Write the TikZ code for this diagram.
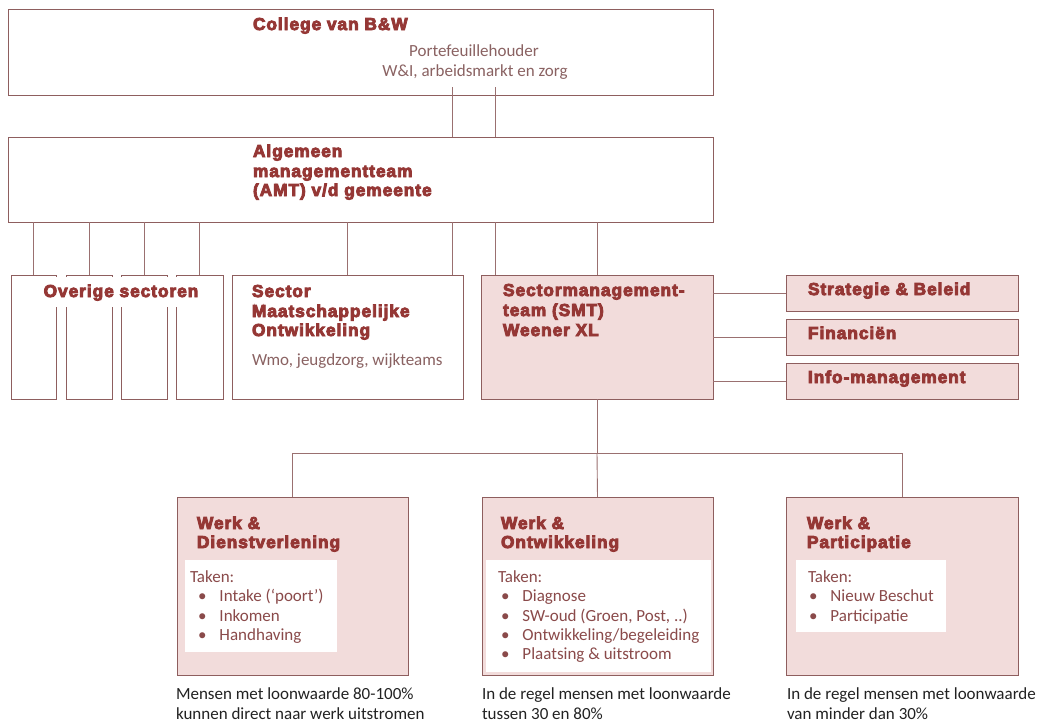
\documentclass[tikz,border=0pt]{standalone}
\usepackage{fontspec}
\setmainfont{Carlito}
\newfontfamily\tfont[BoldFeatures={FakeBold=5,LetterSpace=5.5}]{Liberation Sans}
\definecolor{boxc}{HTML}{8E5E5E}
\definecolor{linec}{HTML}{9A7070}
\definecolor{pinkc}{HTML}{F2DCDB}
\definecolor{titlec}{HTML}{953735}
\definecolor{bodyc}{HTML}{8A4A4A}
\definecolor{greyc}{HTML}{8A6262}
\definecolor{notec}{HTML}{222222}
\newcommand{\bulit}[1]{\makebox[21.5pt][l]{\textbullet}#1}
\begin{document}
\begin{tikzpicture}[x=1pt,y=-1pt,
  box/.style={draw=boxc, line width=1pt, inner sep=0pt, outer sep=0pt, anchor=north west},
  pinkbox/.style={box, fill=pinkc},
  whitebox/.style={fill=white, inner sep=0pt, outer sep=0pt, anchor=north west},
  ln/.style={draw=linec, line width=0.9pt},
  ttl/.style={inner sep=0pt, outer sep=0pt, anchor=base west, text=titlec, font=\tfont\bfseries\fontsize{17.3}{20}\selectfont},
  bodyt/.style={inner sep=0pt, outer sep=0pt, anchor=base west, text=bodyc, font=\fontsize{17}{20}\selectfont},
  greyt/.style={bodyt, text=greyc},
  notet/.style={bodyt, text=notec}]
\useasboundingbox (0,0) rectangle (1049,724);
\fill[white] (0,0) rectangle (1049,724);

% top boxes
\node[box, minimum width=705pt, minimum height=86pt] (college) at (8,9) {};
\node[box, minimum width=705pt, minimum height=85pt] (amt) at (8,137) {};

% sector boxes
\node[box, minimum width=45pt, minimum height=124pt] (ov1) at (11,275) {};
\node[box, minimum width=46pt, minimum height=124pt] (ov2) at (66,275) {};
\node[box, minimum width=46pt, minimum height=124pt] (ov3) at (121,275) {};
\node[box, minimum width=47pt, minimum height=124pt] (ov4) at (176,275) {};
\node[box, minimum width=231pt, minimum height=124pt] (smo) at (232,275) {};
\node[pinkbox, minimum width=232pt, minimum height=124pt] (smt) at (481,275) {};
\node[pinkbox, minimum width=232pt, minimum height=36pt] (strat) at (786,275) {};
\node[pinkbox, minimum width=232pt, minimum height=36pt] (fin) at (786,319) {};
\node[pinkbox, minimum width=232pt, minimum height=36pt] (info) at (786,363) {};

% bottom boxes
\node[pinkbox, minimum width=231pt, minimum height=178pt] (wd) at (177,497) {};
\node[pinkbox, minimum width=231pt, minimum height=178pt] (wo) at (482,497) {};
\node[pinkbox, minimum width=232pt, minimum height=178pt] (wp) at (786,497) {};
\node[whitebox, minimum width=152pt, minimum height=92pt] (wdi) at (185,560) {};
\node[whitebox, minimum width=225pt, minimum height=112pt] (woi) at (486,560) {};
\node[whitebox, minimum width=150pt, minimum height=72pt] (wpi) at (796,560) {};

% connectors
\coordinate (p1) at (452,87);
\coordinate (p2) at (495,87);
\draw[ln] (p1) -- (p1 |- amt.north);
\draw[ln] (p2) -- (p2 |- amt.north);
\draw[ln] (amt.south -| p1) -- (smo.north -| p1);
\draw[ln] (amt.south -| p2) -- (smt.north -| p2);
\foreach \b in {ov1,ov2,ov3,ov4,smo,smt}
  \draw[ln] (\b.north) -- (\b.north |- amt.south);
\draw[ln] (strat.west) -- (strat.west -| smt.east);
\draw[ln] (fin.west) -- (fin.west -| smt.east);
\draw[ln] (info.west) -- (info.west -| smt.east);
\coordinate (hub) at (597,453);
\draw[ln] (smt.south) -- (hub);
\draw[ln] (wd.north) -- (wd.north |- hub) -- (wp.north |- hub) -- (wp.north);
\draw[ln] (hub) -- (wo.north);

% texts: top
\node[ttl] (tcol) at (253,30) {College van B\&W};
\node[greyt, anchor=base] (tport) at (474,56) {Portefeuillehouder};
\node[greyt, anchor=base] (twi) at (475,76) {W\&I, arbeidsmarkt en zorg};
\node[ttl] (tamt1) at (253,157) {Algemeen};
\node[ttl] (tamt2) at (253,177) {managementteam};
\node[ttl] (tamt3) at (253,196) {(AMT) v/d gemeente};

% overige
\node[whitebox, minimum width=166pt, minimum height=30pt] (ovbg) at (38,277) {};
\node[ttl, anchor=base] (tov) at (121,297) {Overige sectoren};

% sector MO
\node[ttl] (tsmo1) at (252,297) {Sector};
\node[ttl] (tsmo2) at (252,317) {Maatschappelijke};
\node[ttl] (tsmo3) at (252,336) {Ontwikkeling};
\node[greyt] (tsmo4) at (252,365) {Wmo, jeugdzorg, wijkteams};

% SMT
\node[ttl] (tsmt1) at (503,296) {Sectormanagement-};
\node[ttl] (tsmt2) at (503,316) {team (SMT)};
\node[ttl] (tsmt3) at (503,336) {Weener XL};
\node[ttl] (tstrat) at (808,295) {Strategie \& Beleid};
\node[ttl] (tfin) at (808,339) {Financiën};
\node[ttl] (tinfo) at (808,383) {Info-management};

% W&D
\node[ttl] (twd1) at (197,529) {Werk \&};
\node[ttl] (twd2) at (197,548) {Dienstverlening};
\node[bodyt] (twd3) at (190,582) {Taken:};
\node[bodyt] (twd4) at (198,601) {\bulit{Intake (‘poort’)}};
\node[bodyt] (twd5) at (198,621) {\bulit{Inkomen}};
\node[bodyt] (twd6) at (198,640) {\bulit{Handhaving}};

% W&O
\node[ttl] (two1) at (501,529) {Werk \&};
\node[ttl] (two2) at (501,548) {Ontwikkeling};
\node[bodyt] (two3) at (498,582) {Taken:};
\node[bodyt] (two4) at (501,601) {\bulit{Diagnose}};
\node[bodyt] (two5) at (501,621) {\bulit{SW-oud (Groen, Post, ..)}};
\node[bodyt] (two6) at (501,640) {\bulit{Ontwikkeling/begeleiding}};
\node[bodyt] (two7) at (501,659) {\bulit{Plaatsing \& uitstroom}};

% W&P
\node[ttl] (twp1) at (807,529) {Werk \&};
\node[ttl] (twp2) at (807,548) {Participatie};
\node[bodyt] (twp3) at (808,582) {Taken:};
\node[bodyt] (twp4) at (809,601) {\bulit{Nieuw Beschut}};
\node[bodyt] (twp5) at (809,621) {\bulit{Participatie}};

% notes
\node[notet] (n1a) at (176,699) {Mensen met loonwaarde 80-100\%};
\node[notet] (n1b) at (176,719) {kunnen direct naar werk uitstromen};
\node[notet] (n2a) at (482,699) {In de regel mensen met loonwaarde};
\node[notet] (n2b) at (482,719) {tussen 30 en 80\%};
\node[notet] (n3a) at (787,699) {In de regel mensen met loonwaarde};
\node[notet] (n3b) at (787,719) {van minder dan 30\%};
\end{tikzpicture}
\end{document}
